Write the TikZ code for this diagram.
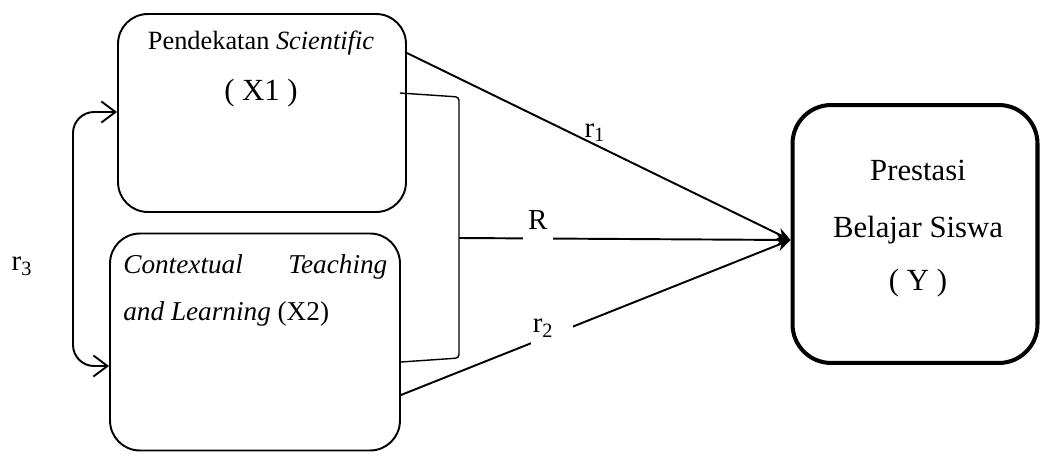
\documentclass[tikz,border=0pt]{standalone}
\usepackage{fontspec}
\setmainfont{Liberation Serif}
\usepackage{tikz}
\usetikzlibrary{
    arrows.meta,
    calc
}
\tikzset
{
  varbox/.style={draw,rounded corners=17pt,line width=1.1pt,minimum width=5.76cm,minimum height=3.96cm},
  ybox/.style={draw,rounded corners=22pt,line width=2.3pt,minimum width=4.9cm,minimum height=5.16cm},
  link/.style={line width=1.1pt,-{Stealth[length=8pt,width=7pt]}},
  corr/.style={line width=1.1pt,rounded corners=12pt,{Straight Barb[length=8pt,width=12pt]}-{Straight Barb[length=8pt,width=12pt]}},
  brace/.style={line width=0.8pt,rounded corners=2pt},
  smalltext/.style={font=\fontsize{15}{18}\selectfont},
  midtext/.style={font=\fontsize{15.5}{19}\selectfont},
  bigtext/.style={font=\fontsize{17.5}{21}\selectfont},
  coef/.style={font=\fontsize{16.5}{20}\selectfont,inner sep=1pt}
}
\begin{document}
\begin{tikzpicture}[x=0.02cm,y=-0.02cm]
        \useasboundingbox (0,0) rectangle (1041,453);

        % Boxes
        \node[varbox] (x1) at (262,113) {};
        \node[varbox,minimum width=5.8cm,minimum height=4.34cm] (x2) at (255,342) {};
        \node[ybox] (y) at (915,234) {};

        % Box texts
        \node[smalltext,anchor=base] (x1name) at (261,50) {Pendekatan \textit{Scientific}};
        \node[bigtext,anchor=base] (x1code) at (261,100) {( X1 )};
        \node[midtext,anchor=base west,inner sep=0pt] (x2name) at (123,273)
            {\hbox to 5.28cm{\textit{Contextual}\hfill\textit{Teaching}}};
        \node[midtext,anchor=base west,inner sep=0pt] (x2code) at (123,320) {\textit{and Learning} (X2)};
        \node[bigtext,anchor=base] (yname) at (918,180) {Prestasi};
        \node[bigtext,anchor=base] (yname2) at (918,237) {Belajar Siswa};
        \node[bigtext,anchor=base] (ycode) at (918,290) {( Y )};

        % Joint bracket of X1 and X2
        \coordinate (join) at (459,238);
        \coordinate (tip) at (y.west |- 0,240);
        \draw[brace] ($(x1.east |- 0,93)+(-7,0)$) -- (join |- 0,97) -- (join |- 0,358) -- (x2.east |- 0,362);

        % Arrows to Y
        \draw[link] (x1.east |- 0,53) -- node[coef,pos=0.49,above] (r1) {r\textsubscript{1}} (tip);
        \draw[link] (join) -- node[coef,pos=0.238,anchor=south,yshift=-0.08cm,fill=white,inner xsep=3pt,text depth=6pt] (rr) {R} (tip);
        \draw[link] (x2.east |- 0,395) -- (tip);
        \node[coef,fill=white,text width=0.77cm,align=left,minimum height=0.7cm] (r2) at (552,328) {r\textsubscript{2}};

        % Correlation of X1 and X2
        \coordinate (loop) at (73,240);
        \draw[corr] (x1.west |- 0,112) -| (loop) |- (x2.west |- 0,366);
        \node[coef] (r3) at (22,266) {r\textsubscript{3}};
    \end{tikzpicture}
\end{document}
